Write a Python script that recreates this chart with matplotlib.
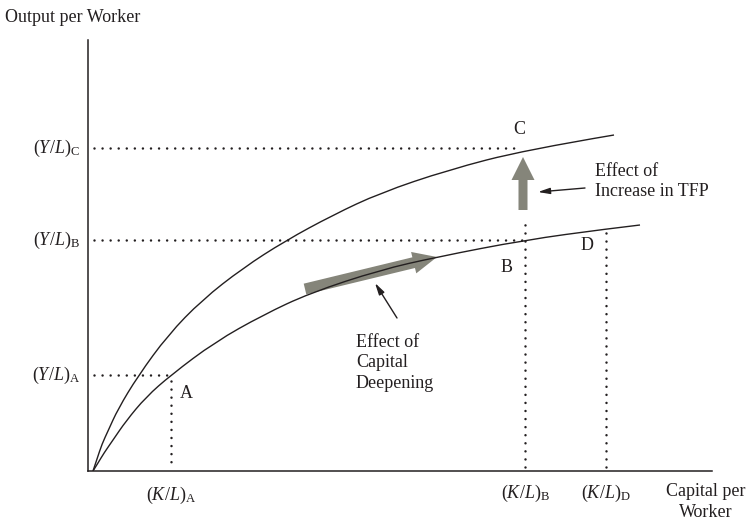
import numpy as np
import matplotlib
matplotlib.use("Agg")
from matplotlib import pyplot as plt
from matplotlib.patches import FancyArrow, PathPatch
from matplotlib.path import Path

# production functions: capital per worker vs output per worker (schematic units)
k_upper = [5, 9, 14, 20, 30, 50, 80, 114, 155, 197, 245, 292, 360, 437, 526]
y_upper = [0, 12, 27, 40, 62, 95, 136, 171, 203, 230, 256, 278, 301, 321, 336]

k_lower = [5, 10, 16, 25, 38, 58, 83, 127, 175, 222, 292, 349, 437, 518, 552]
y_lower = [0, 8, 18, 31, 50, 74, 96, 129, 156, 178, 201, 214, 231, 242, 246]

# points on the curves
k_A, k_B, k_D = 83, 437, 518
y_A, y_B, y_C = 96, 231, 323
y_D = 242

ink = '#231f20'
arrow_grey = '#85857a'

plt.rcParams['font.family'] = ['Liberation Serif', 'DejaVu Serif']
plt.rcParams['mathtext.fontset'] = 'custom'
plt.rcParams['mathtext.rm'] = 'Liberation Serif'
plt.rcParams['mathtext.it'] = 'Liberation Serif:italic'
plt.rcParams['lines.scale_dashes'] = False


def smooth_curve(xs, ys):
    # quadratic spline through the midpoints, read points as control points
    pts = np.column_stack([xs, ys]).astype(float)
    verts = [pts[0]]
    codes = [Path.MOVETO]
    for i in range(1, len(pts) - 1):
        end = pts[-1] if i == len(pts) - 2 else (pts[i] + pts[i + 1]) / 2
        verts += [pts[i], end]
        codes += [Path.CURVE3, Path.CURVE3]
    return Path(verts, codes)


fig = plt.figure(figsize=(7.56, 5.24), dpi=100)
ax = fig.add_axes([88/756, 53/524, 624/756, 431/524])
ax.set_xlim(0, 624)
ax.set_ylim(0, 431)
for s in ['top', 'right']:
    ax.spines[s].set_visible(False)
for s in ['left', 'bottom']:
    ax.spines[s].set_color(ink)
    ax.spines[s].set_linewidth(1.1)
ax.set_xticks([])
ax.set_yticks([])

for xs, ys in [(k_upper, y_upper), (k_lower, y_lower)]:
    ax.add_patch(PathPatch(smooth_curve(xs, ys), fill=False, edgecolor=ink,
                           lw=1.0, zorder=3))

dots = dict(color=ink, lw=1.8, linestyle=(0, (0.01, 5.8)), dash_capstyle='round')
ax.plot([6, k_A], [y_A, y_A], **dots)
ax.plot([k_A, k_A], [y_A - 6, 4], **dots)
ax.plot([6, k_B], [y_B, y_B], **dots)
ax.plot([k_B, k_B], [4, 250], **dots)
ax.plot([k_D, k_D], [4, y_D - 2], **dots)
ax.plot([6, 432], [y_C, y_C], **dots)

# thick arrows
ax.add_patch(FancyArrow(217, 182, 132, 32, width=11, head_width=22,
                        head_length=24, length_includes_head=True,
                        color=arrow_grey, lw=0, zorder=2))
ax.add_patch(FancyArrow(435, 261, 0, 53, width=9, head_width=23,
                        head_length=23, length_includes_head=True,
                        color=arrow_grey, lw=0, zorder=2))

# pointer arrows
ax.annotate('', xy=(287, 188), xytext=(309, 153),
            arrowprops=dict(arrowstyle='-|>,head_length=0.7,head_width=0.18',
                            color=ink, lw=1.0, shrinkA=0, shrinkB=0))
ax.annotate('', xy=(450, 279), xytext=(497, 283),
            arrowprops=dict(arrowstyle='-|>,head_length=0.7,head_width=0.18',
                            color=ink, lw=1.0, shrinkA=0, shrinkB=0))

fs = 13
ax.text(-83, 453, 'Output per Worker', fontsize=fs, color=ink, va='center', ha='left')
ax.text(-8, y_C, r'$(Y/L)_{\mathrm{C}}$', fontsize=fs, color=ink, va='center', ha='right')
ax.text(-8, y_B, r'$(Y/L)_{\mathrm{B}}$', fontsize=fs, color=ink, va='center', ha='right')
ax.text(-8, y_A, r'$(Y/L)_{\mathrm{A}}$', fontsize=fs, color=ink, va='center', ha='right')
ax.text(k_A, -24, r'$(K/L)_{\mathrm{A}}$', fontsize=fs, color=ink, va='center', ha='center')
ax.text(k_B, -22, r'$(K/L)_{\mathrm{B}}$', fontsize=fs, color=ink, va='center', ha='center')
ax.text(k_D, -22, r'$(K/L)_{\mathrm{D}}$', fontsize=fs, color=ink, va='center', ha='center')
ax.text(618, -31, 'Capital per\nWorker', fontsize=fs, color=ink, va='center',
        ha='center', linespacing=1.25)

ax.text(98, 78, 'A', fontsize=fs, color=ink, va='center', ha='center')
ax.text(419, 204, 'B', fontsize=fs, color=ink, va='center', ha='center')
ax.text(431, 341, 'C', fontsize=fs, color=ink, va='center', ha='center')
ax.text(499, 226, 'D', fontsize=fs, color=ink, va='center', ha='center')

ax.text(268, 137, 'Effect of\nCapital\nDeepening', fontsize=fs, color=ink,
        va='top', ha='left', linespacing=1.25)
ax.text(507, 308, 'Effect of\nIncrease in TFP', fontsize=fs, color=ink,
        va='top', ha='left', linespacing=1.25)

fig.savefig('out.png', dpi=100)
